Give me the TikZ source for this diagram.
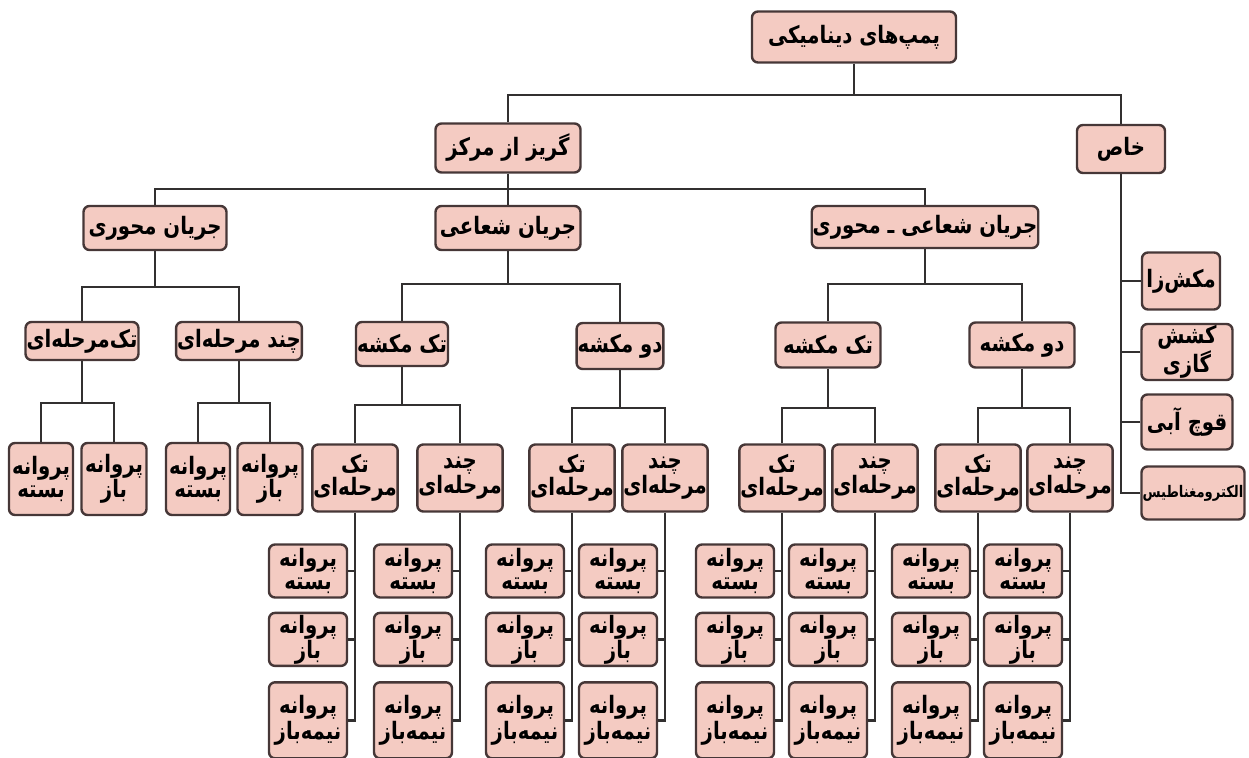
\documentclass[tikz,border=0pt]{standalone}
\usepackage{fontspec}
\usepackage{xcolor}
\usepackage{tikz}
\usetikzlibrary{positioning}
\newfontfamily\farsi[Script=Arabic, FakeStretch=0.82]{DejaVu Sans}
\TeXXeTstate=1
\newcommand{\fatxt}[1]{\beginR #1\endR}
\definecolor{boxfill}{RGB}{244,203,194}
\definecolor{boxdraw}{RGB}{70,55,55}
\definecolor{linecol}{RGB}{50,48,48}
\tikzset{
  tbox/.style={draw=boxdraw, fill=boxfill, line width=2.4pt, rounded corners=6pt, align=center, inner sep=1pt, font=\farsi\bfseries\fontsize{24}{23}\selectfont},
  head/.style={tbox, minimum height=46pt},
  stage/.style={tbox, minimum width=66pt, minimum height=67pt},
  leaf/.style={tbox, minimum width=78pt, minimum height=53pt},
  tallleaf/.style={leaf, minimum height=76pt},
  spec/.style={tbox, minimum height=56pt, minimum width=91pt},
  link/.style={draw=linecol, line width=2.4pt},
}

\begin{document}
\begin{tikzpicture}[x=1pt, y=-1pt]
\useasboundingbox (0,0) rectangle (1249,757);
% top levels
\node[head, minimum width=204pt, minimum height=51pt] (root) at (854,37) {\fatxt{پمپ‌های دینامیکی}};
\node[head, minimum width=145pt, minimum height=49pt] (gries) at (508,148) {\fatxt{گریز از مرکز}};
\node[head, minimum width=88pt, minimum height=48pt] (khas) at (1121,149) {\fatxt{خاص}};
\node[head, minimum width=143pt, minimum height=44pt] (mahvari) at (155,228) {\fatxt{جریان محوری}};
\node[head, minimum width=145pt, minimum height=44pt] (shoaei) at (508,228) {\fatxt{جریان شعاعی}};
\node[head, minimum width=220pt, minimum height=42pt] (shmah) at (925,227) {\fatxt{جریان شعاعی ـ محوری}};
% third level
\node[head, minimum width=101pt, minimum height=38pt] (tek1) at (82,341) {\fatxt{تک‌مرحله‌ای}};
\node[head, minimum width=125pt, minimum height=38pt] (chand1) at (239,341) {\fatxt{چند مرحله‌ای}};
\node[head, minimum width=90pt, minimum height=44pt] (tekm1) at (402,344) {\fatxt{تک مکشه}};
\node[head, minimum width=84pt, minimum height=46pt] (dom1) at (620,346) {\fatxt{دو مکشه}};
\node[head, minimum width=105pt, minimum height=45pt] (tekm2) at (828,345) {\fatxt{تک مکشه}};
\node[head, minimum width=105pt, minimum height=45pt] (dom2) at (1022,345) {\fatxt{دو مکشه}};
% axial flow impellers
\node[leaf, minimum width=64pt, minimum height=72pt] (ax1) at (41,479) {\fatxt{پروانه}\\\fatxt{بسته}};
\node[leaf, minimum width=65pt, minimum height=72pt] (ax2) at (114,479) {\fatxt{پروانه}\\\fatxt{باز}};
\node[leaf, minimum width=64pt, minimum height=72pt] (ax3) at (198,479) {\fatxt{پروانه}\\\fatxt{بسته}};
\node[leaf, minimum width=65pt, minimum height=72pt] (ax4) at (270,479) {\fatxt{پروانه}\\\fatxt{باز}};
% stage boxes
\node[stage] (c1) at (355,478) {\fatxt{تک}\\\fatxt{مرحله‌ای}};
\node[stage] (c2) at (460,478) {\fatxt{چند}\\\fatxt{مرحله‌ای}};
\node[stage] (c3) at (572,478) {\fatxt{تک}\\\fatxt{مرحله‌ای}};
\node[stage] (c4) at (665,478) {\fatxt{چند}\\\fatxt{مرحله‌ای}};
\node[stage] (c5) at (782,478) {\fatxt{تک}\\\fatxt{مرحله‌ای}};
\node[stage] (c6) at (875,478) {\fatxt{چند}\\\fatxt{مرحله‌ای}};
\node[stage] (c7) at (978,478) {\fatxt{تک}\\\fatxt{مرحله‌ای}};
\node[stage] (c8) at (1070,478) {\fatxt{چند}\\\fatxt{مرحله‌ای}};
% impeller columns
\node[leaf] (c1a) at (308,571) {\fatxt{پروانه}\\\fatxt{بسته}};
\node[leaf, below=13pt of c1a] (c1b) {\fatxt{پروانه}\\\fatxt{باز}};
\node[tallleaf, below=14pt of c1b] (c1c) {\fatxt{پروانه}\\\fatxt{نیمه‌باز}};
\node[leaf] (c2a) at (413,571) {\fatxt{پروانه}\\\fatxt{بسته}};
\node[leaf, below=13pt of c2a] (c2b) {\fatxt{پروانه}\\\fatxt{باز}};
\node[tallleaf, below=14pt of c2b] (c2c) {\fatxt{پروانه}\\\fatxt{نیمه‌باز}};
\node[leaf] (c3a) at (525,571) {\fatxt{پروانه}\\\fatxt{بسته}};
\node[leaf, below=13pt of c3a] (c3b) {\fatxt{پروانه}\\\fatxt{باز}};
\node[tallleaf, below=14pt of c3b] (c3c) {\fatxt{پروانه}\\\fatxt{نیمه‌باز}};
\node[leaf] (c4a) at (618,571) {\fatxt{پروانه}\\\fatxt{بسته}};
\node[leaf, below=13pt of c4a] (c4b) {\fatxt{پروانه}\\\fatxt{باز}};
\node[tallleaf, below=14pt of c4b] (c4c) {\fatxt{پروانه}\\\fatxt{نیمه‌باز}};
\node[leaf] (c5a) at (735,571) {\fatxt{پروانه}\\\fatxt{بسته}};
\node[leaf, below=13pt of c5a] (c5b) {\fatxt{پروانه}\\\fatxt{باز}};
\node[tallleaf, below=14pt of c5b] (c5c) {\fatxt{پروانه}\\\fatxt{نیمه‌باز}};
\node[leaf] (c6a) at (828,571) {\fatxt{پروانه}\\\fatxt{بسته}};
\node[leaf, below=13pt of c6a] (c6b) {\fatxt{پروانه}\\\fatxt{باز}};
\node[tallleaf, below=14pt of c6b] (c6c) {\fatxt{پروانه}\\\fatxt{نیمه‌باز}};
\node[leaf] (c7a) at (931,571) {\fatxt{پروانه}\\\fatxt{بسته}};
\node[leaf, below=13pt of c7a] (c7b) {\fatxt{پروانه}\\\fatxt{باز}};
\node[tallleaf, below=14pt of c7b] (c7c) {\fatxt{پروانه}\\\fatxt{نیمه‌باز}};
\node[leaf] (c8a) at (1023,571) {\fatxt{پروانه}\\\fatxt{بسته}};
\node[leaf, below=13pt of c8a] (c8b) {\fatxt{پروانه}\\\fatxt{باز}};
\node[tallleaf, below=14pt of c8b] (c8c) {\fatxt{پروانه}\\\fatxt{نیمه‌باز}};
% special pumps
\node[spec, minimum width=78pt, minimum height=57pt] (makesh) at (1181,281) {\fatxt{مکش‌زا}};
\node[spec] (keshesh) at (1187,352) {\fatxt{کشش}\\\fatxt{گازی}};
\node[spec, minimum height=55pt] (quch) at (1187,422) {\fatxt{قوچ آبی}};
\node[spec, minimum width=103pt, minimum height=53pt, inner sep=1pt, font=\farsi\bfseries\fontsize{16}{18}\selectfont] (elec) at (1193,493) {\fatxt{الکترومغناطیس}};
% junctions
\coordinate (j0) at (854,95);
\coordinate (j1) at (508,189);
\coordinate (j2) at (155,287);
\coordinate (j3) at (82,403);
\coordinate (j4) at (239,403);
\coordinate (j5) at (508,284);
\coordinate (j6) at (402,405);
\coordinate (j7) at (620,408);
\coordinate (j8) at (925,284);
\coordinate (j9) at (828,408);
\coordinate (j10) at (1022,408);
\draw[link] (root.south) -- (j0);
\draw[link] (gries.north) |- (j0) -| (khas.north);
\draw[link] (gries.south) -- (shoaei.north);
\draw[link] (mahvari.north) |- (j1) -| (shmah.north);
\draw[link] (mahvari.south) -- (j2);
\draw[link] (tek1.north) |- (j2) -| (chand1.north);
\draw[link] (tek1.south) -- (j3);
\draw[link] (ax1.north) |- (j3) -| (ax2.north);
\draw[link] (chand1.south) -- (j4);
\draw[link] (ax3.north) |- (j4) -| (ax4.north);
\draw[link] (shoaei.south) -- (j5);
\draw[link] (tekm1.north) |- (j5) -| (dom1.north);
\draw[link] (tekm1.south) -- (j6);
\draw[link] (c1.north) |- (j6) -| (c2.north);
\draw[link] (dom1.south) -- (j7);
\draw[link] (c3.north) |- (j7) -| (c4.north);
\draw[link] (shmah.south) -- (j8);
\draw[link] (tekm2.north) |- (j8) -| (dom2.north);
\draw[link] (tekm2.south) -- (j9);
\draw[link] (c5.north) |- (j9) -| (c6.north);
\draw[link] (dom2.south) -- (j10);
\draw[link] (c7.north) |- (j10) -| (c8.north);
% impeller ticks
\draw[link] (c1.south) |- (c1c.east);
\draw[link] (c1a.east) -- (c1a.east -| c1.south);
\draw[link] (c1b.east) -- (c1b.east -| c1.south);
\draw[link] (c2.south) |- (c2c.east);
\draw[link] (c2a.east) -- (c2a.east -| c2.south);
\draw[link] (c2b.east) -- (c2b.east -| c2.south);
\draw[link] (c3.south) |- (c3c.east);
\draw[link] (c3a.east) -- (c3a.east -| c3.south);
\draw[link] (c3b.east) -- (c3b.east -| c3.south);
\draw[link] (c4.south) |- (c4c.east);
\draw[link] (c4a.east) -- (c4a.east -| c4.south);
\draw[link] (c4b.east) -- (c4b.east -| c4.south);
\draw[link] (c5.south) |- (c5c.east);
\draw[link] (c5a.east) -- (c5a.east -| c5.south);
\draw[link] (c5b.east) -- (c5b.east -| c5.south);
\draw[link] (c6.south) |- (c6c.east);
\draw[link] (c6a.east) -- (c6a.east -| c6.south);
\draw[link] (c6b.east) -- (c6b.east -| c6.south);
\draw[link] (c7.south) |- (c7c.east);
\draw[link] (c7a.east) -- (c7a.east -| c7.south);
\draw[link] (c7b.east) -- (c7b.east -| c7.south);
\draw[link] (c8.south) |- (c8c.east);
\draw[link] (c8a.east) -- (c8a.east -| c8.south);
\draw[link] (c8b.east) -- (c8b.east -| c8.south);
% special branch
\draw[link] (khas.south) |- (elec.west);
\draw[link] (makesh.west) -- (makesh.west -| khas.south);
\draw[link] (keshesh.west) -- (keshesh.west -| khas.south);
\draw[link] (quch.west) -- (quch.west -| khas.south);
\end{tikzpicture}
\end{document}
